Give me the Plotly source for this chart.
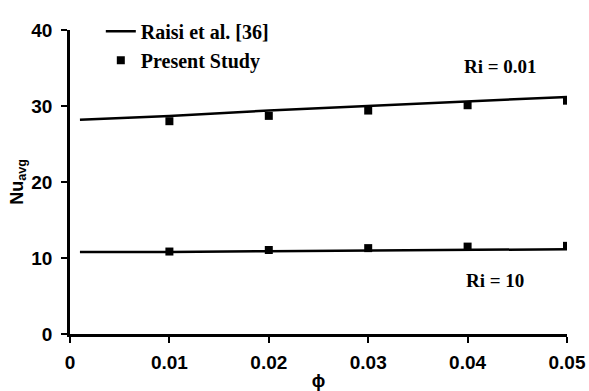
import plotly.graph_objects as go

phi_line = [0.001, 0.01, 0.02, 0.03, 0.04, 0.05]
raisi_ri001 = [28.2, 28.7, 29.4, 30.0, 30.6, 31.2]
raisi_ri10 = [10.8, 10.8, 10.9, 11.0, 11.1, 11.15]

phi_pts = [0.01, 0.02, 0.03, 0.04, 0.05]
present_ri001 = [28.0, 28.7, 29.4, 30.1, 30.7]
present_ri10 = [10.85, 11.05, 11.3, 11.5, 11.6]

x_ticks = [0, 0.01, 0.02, 0.03, 0.04, 0.05]
x_ticktext = ["0", "0.01", "0.02", "0.03", "0.04", "0.05"]
y_ticks = [0, 10, 20, 30, 40]

fig = go.Figure()
fig.add_trace(go.Scatter(x=phi_line, y=raisi_ri001, mode="lines",
                         line=dict(color="black", width=2.5), name="Raisi et al. [36]"))
fig.add_trace(go.Scatter(x=phi_line, y=raisi_ri10, mode="lines",
                         line=dict(color="black", width=2.5), showlegend=False))
fig.add_trace(go.Scatter(x=phi_pts, y=present_ri001, mode="markers",
                         marker=dict(symbol="square", size=8, color="black"), name="Present Study"))
fig.add_trace(go.Scatter(x=phi_pts, y=present_ri10, mode="markers",
                         marker=dict(symbol="square", size=8, color="black"), showlegend=False))

serif = "Liberation Serif, Times New Roman, serif"
sans = "Liberation Sans, Arial, sans-serif"

fig.add_annotation(x=0.0433, y=35.2, text="<b>Ri = 0.01</b>", showarrow=False,
                   font=dict(family=serif, size=19, color="black"))
fig.add_annotation(x=0.0428, y=7.0, text="<b>Ri = 10</b>", showarrow=False,
                   font=dict(family=serif, size=19, color="black"))

fig.update_layout(
    width=589, height=391,
    margin=dict(l=70, r=22, t=22, b=57),
    plot_bgcolor="white", paper_bgcolor="white",
    showlegend=True,
    legend=dict(x=0.062, y=1.06, xanchor="left", yanchor="top",
                font=dict(family=serif, size=20, color="black", weight="bold"),
                bgcolor="rgba(0,0,0,0)", itemwidth=30, tracegroupgap=0),
    xaxis=dict(range=[0, 0.05], tickvals=x_ticks, ticktext=x_ticktext, automargin=False,
               showgrid=False, zeroline=False, showline=True, linecolor="black", linewidth=2.5,
               ticks="outside", ticklen=6, tickwidth=2, tickcolor="black",
               ticklabelstandoff=3,
               tickfont=dict(family=sans, size=19, color="black", weight="bold"),
               title=dict(text="<b>ϕ</b>", font=dict(family=sans, size=18, color="black"), standoff=6)),
    yaxis=dict(range=[0, 40], tickvals=y_ticks, automargin=False,
               showgrid=False, zeroline=False, showline=True, linecolor="black", linewidth=2.5,
               ticks="outside", ticklen=6, tickwidth=2, tickcolor="black",
               ticklabelstandoff=5,
               tickfont=dict(family=sans, size=19, color="black", weight="bold"),
               title=dict(text="<b>Nu<sub>avg</sub></b>", font=dict(family=sans, size=18, color="black"), standoff=4)),
)

fig.write_html("out.html")
